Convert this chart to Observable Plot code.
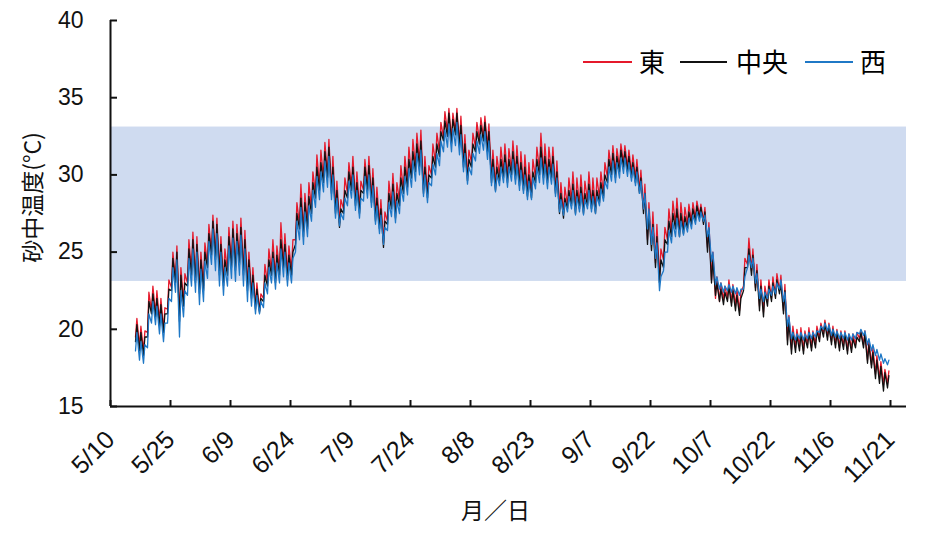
<!DOCTYPE html>
<html><head><meta charset="utf-8">
<script src="https://cdn.jsdelivr.net/npm/d3@7"></script>
<script src="https://cdn.jsdelivr.net/npm/@observablehq/plot@0.6"></script>
<style>
body{margin:0;background:#fff;}
#wrap{position:relative;width:925px;height:534px;}
.lg-line{position:absolute;height:1.5px;}
.lg-text{position:absolute;font-family:"Noto Sans CJK JP",sans-serif;font-size:26px;line-height:26px;color:#000;white-space:nowrap;}
</style></head><body><div id="wrap"></div>
<script>
// ---- data ----
const year = 2021;
const startLabel = "5/10";       // x-axis origin
const endLabel = "11/25";        // x-axis end
const firstDayLabel = "5/16";    // first day of measurements
const seriesNames = ["東", "中央", "西"];
const seriesColors = ["#e5192b", "#111111", "#1f78c6"];
const tickLabels = ["5/10","5/25","6/9","6/24","7/9","7/24","8/8","8/23","9/7","9/22","10/7","10/22","11/6","11/21"];
const yTicks = [15, 20, 25, 30, 35, 40];
const yDomain = [15, 40];
const bandLow = 23.1, bandHigh = 33.1;

// daily minimum / maximum, one value per day from 5/16 to 11/20
const centerLo = [
19.2,18.6,18.3,19.5,21.0,20.8,20.2,19.8,21.0,22.5,
23.0,20.5,21.5,22.8,23.5,23.0,22.3,22.5,24.0,24.8,
24.5,23.5,22.8,23.5,24.0,23.8,24.2,23.5,22.5,22.0,
21.3,21.1,21.8,22.8,23.5,23.0,23.5,24.0,23.2,23.5,
25.5,26.5,26.0,26.5,27.5,28.5,29.0,29.5,29.8,28.8,
27.5,26.6,27.5,28.5,29.0,28.0,27.5,28.8,29.0,28.2,
27.0,26.5,25.3,26.8,27.8,27.2,28.0,28.8,29.2,29.8,
30.2,30.5,28.8,28.5,29.8,30.5,31.2,32.2,32.5,32.0,
32.6,31.8,30.5,29.6,30.5,31.5,32.0,32.2,31.5,29.5,
29.0,29.6,29.8,29.5,30.0,29.7,29.3,29.0,28.6,28.5,
29.5,30.0,29.8,29.5,29.8,28.8,27.5,27.2,27.8,28.0,
27.5,27.8,27.5,28.0,27.8,27.5,28.2,28.5,29.5,30.0,
29.8,30.2,30.5,30.2,29.8,29.5,28.8,27.5,25.5,25.1,
24.0,23.0,24.0,25.5,26.0,26.5,26.0,26.2,26.5,26.8,
27.0,27.2,26.8,25.0,23.0,22.2,21.8,21.6,21.8,21.5,
21.2,20.9,22.5,24.0,23.5,22.5,21.2,20.8,21.5,21.8,
22.0,22.3,21.0,19.0,18.4,18.5,18.6,18.4,18.8,18.6,
18.8,19.2,19.5,19.3,19.0,18.8,18.6,18.7,18.4,18.5,
18.8,19.2,18.8,17.8,17.5,16.8,16.5,16.0,16.2];
const centerHi = [
20.3,19.8,19.5,21.8,22.3,22.0,21.6,21.0,22.6,24.6,
25.0,23.5,23.0,25.2,25.8,25.5,24.5,25.0,26.2,27.0,
26.8,25.5,24.5,26.0,26.5,26.2,26.6,25.8,24.5,23.5,
22.6,22.0,23.5,24.5,25.0,24.8,25.8,25.5,24.8,25.0,
27.5,28.5,28.2,28.6,29.5,30.5,30.8,31.5,31.8,30.5,
29.0,27.8,29.0,30.2,30.5,29.5,29.0,30.5,30.6,29.8,
28.5,27.8,27.0,28.8,29.4,28.8,29.8,30.5,31.0,31.5,
32.0,32.2,30.5,30.0,31.2,32.0,32.8,33.5,34.0,33.6,
34.0,33.2,32.0,31.0,32.0,32.8,33.2,33.4,32.8,31.0,
30.5,31.0,31.3,31.0,31.5,31.2,30.8,30.5,30.0,30.2,
31.0,31.8,31.2,31.0,31.2,30.2,28.8,28.5,29.0,29.4,
29.0,29.2,28.8,29.4,29.0,29.0,29.5,30.0,31.0,31.4,
31.2,31.6,31.5,31.2,30.8,30.5,29.8,28.8,27.5,26.8,
26.0,24.5,25.8,27.0,27.5,27.8,27.5,27.3,27.6,27.8,
28.0,27.9,27.6,26.5,24.5,23.0,22.6,22.4,22.8,22.5,
22.2,22.0,24.0,25.2,24.8,23.8,22.8,22.4,22.8,23.0,
23.2,23.0,22.5,20.5,19.8,19.6,19.7,19.5,19.8,19.6,
19.9,20.2,20.4,20.2,20.0,19.8,19.6,19.7,19.5,19.4,
19.5,19.8,19.7,19.0,18.5,18.0,17.6,17.2,17.0];
const eastLo = [
19.5,18.9,18.6,19.8,21.2,21.0,20.5,20.0,21.3,22.7,
23.2,20.8,21.8,23.0,23.8,23.2,22.6,22.8,24.2,25.0,
24.8,23.8,23.0,23.8,24.3,24.0,24.5,23.8,22.8,22.2,
21.5,21.2,22.0,23.0,23.8,23.3,23.8,24.2,23.5,23.8,
25.8,26.8,26.3,26.8,27.8,28.8,29.3,29.8,30.0,29.0,
27.8,26.9,27.8,28.8,29.3,28.3,27.8,29.0,29.3,28.5,
27.3,26.8,25.6,27.0,28.0,27.5,28.3,29.0,29.5,30.0,
30.5,30.8,29.0,28.8,30.0,30.8,31.5,32.4,32.8,32.3,
32.8,32.0,30.8,29.9,30.8,31.8,32.2,32.4,31.8,29.8,
29.3,29.9,30.1,29.8,30.3,30.0,29.6,29.3,28.9,28.8,
29.8,30.3,30.1,29.8,30.1,29.0,27.8,27.5,28.0,28.3,
27.8,28.0,27.8,28.3,28.0,27.8,28.5,28.8,29.8,30.3,
30.1,30.5,30.8,30.5,30.1,29.8,29.0,27.8,25.8,25.5,
24.3,23.4,24.5,25.8,26.3,26.8,26.3,26.5,26.8,27.0,
27.2,27.4,27.0,25.3,23.2,22.0,21.8,21.9,22.0,21.7,
21.5,21.2,22.8,24.2,23.8,22.7,21.5,21.1,21.8,22.0,
22.2,22.5,21.2,19.3,18.7,18.8,18.9,18.6,19.0,18.8,
19.0,19.4,19.7,19.5,19.2,19.0,18.8,18.9,18.6,18.7,
19.0,19.4,19.0,18.0,17.7,17.1,16.8,16.4,16.5];
const eastHi = [
20.7,20.2,19.9,22.4,22.8,22.5,22.0,21.4,23.2,25.0,
25.4,24.0,23.6,25.8,26.3,26.0,25.0,25.6,26.8,27.4,
27.2,26.0,25.2,26.6,27.0,26.8,27.2,26.4,25.0,24.0,
23.0,22.3,24.2,25.2,25.8,25.4,26.9,26.2,25.4,25.8,
28.2,29.4,28.8,29.5,30.2,31.3,31.6,32.1,32.3,31.2,
29.6,28.4,29.8,30.8,31.2,30.2,29.6,31.0,31.2,30.4,
29.2,28.4,27.6,29.6,30.1,29.5,30.6,31.2,31.8,32.3,
32.7,32.9,31.2,30.6,32.0,32.7,33.4,34.1,34.3,34.0,
34.3,33.8,32.6,31.6,32.7,33.4,33.7,33.8,33.3,31.6,
31.2,31.8,32.0,31.7,32.2,31.9,31.5,31.3,30.8,31.0,
31.8,32.7,32.0,31.8,31.8,30.9,29.5,29.2,29.8,30.2,
29.8,30.0,29.6,30.2,29.8,29.8,30.2,30.8,31.6,31.9,
31.7,32.0,31.9,31.6,31.3,31.0,30.3,29.4,28.2,27.6,
26.8,25.2,26.6,27.8,28.3,28.5,28.2,27.9,28.1,28.2,
28.3,28.1,27.9,26.9,25.0,23.4,23.0,22.8,23.2,22.9,
22.6,22.4,24.6,25.9,25.2,24.2,23.2,22.8,23.2,23.4,
23.6,23.5,22.9,20.9,20.2,20.0,20.1,19.9,20.1,19.9,
20.2,20.4,20.6,20.4,20.2,20.0,19.9,19.9,19.7,19.7,
19.8,19.9,19.9,19.3,18.8,18.3,17.9,17.4,17.3];
const westLo = [
18.6,18.0,17.8,18.8,20.4,20.3,19.7,19.2,20.4,21.8,
22.4,19.5,20.8,22.2,22.8,22.4,21.6,21.8,23.3,24.2,
23.8,22.8,22.2,22.8,23.3,23.1,23.5,22.8,21.8,21.5,
21.0,21.0,21.4,22.3,23.0,22.6,23.0,23.4,22.8,23.0,
25.0,25.8,25.5,26.0,27.0,27.9,28.4,28.9,29.2,28.4,
27.2,26.7,27.1,28.0,28.5,27.7,27.2,28.3,28.5,27.9,
26.8,26.2,25.5,26.4,27.3,26.9,27.5,28.3,28.7,29.2,
29.6,30.0,28.6,28.2,29.3,30.0,30.6,31.5,31.8,31.5,
31.9,31.3,30.2,29.4,30.0,30.9,31.4,31.6,31.0,29.3,
28.9,29.3,29.5,29.2,29.6,29.4,29.0,28.8,28.4,28.4,
29.1,29.5,29.4,29.1,29.4,28.6,27.6,27.4,27.6,27.8,
27.4,27.6,27.4,27.8,27.6,27.5,28.0,28.3,29.1,29.6,
29.5,29.8,30.1,29.9,29.6,29.3,28.8,27.8,26.5,25.5,
24.6,22.5,23.8,25.0,25.6,26.0,26.0,26.1,26.3,26.5,
26.8,27.0,27.0,26.0,24.4,22.9,22.6,22.4,22.5,22.4,
22.3,22.2,22.6,24.0,24.0,23.0,22.0,21.8,22.0,22.2,
22.3,22.6,21.8,20.2,19.4,19.3,19.4,19.3,19.4,19.4,
19.5,19.8,20.0,19.9,19.6,19.5,19.4,19.4,19.3,19.3,
19.4,19.7,19.6,19.0,18.6,18.3,18.0,17.8,17.7];
const westHi = [
19.8,19.2,19.0,21.0,21.8,21.5,21.0,20.4,22.0,24.0,
24.5,22.5,22.5,24.6,25.2,25.0,23.9,24.4,25.7,26.5,
26.2,25.0,24.0,25.4,25.9,25.7,26.1,25.2,24.0,23.0,
22.2,21.8,23.0,24.0,24.6,24.3,25.2,25.0,24.3,24.6,
27.0,27.9,27.6,28.0,29.0,29.9,30.2,30.9,31.2,30.0,
28.5,27.5,28.5,29.6,30.0,29.0,28.5,29.9,30.0,29.3,
28.0,27.4,26.6,28.2,28.9,28.3,29.2,29.9,30.4,30.9,
31.4,31.6,30.0,29.5,30.7,31.4,32.2,32.9,33.3,33.0,
33.4,32.6,31.4,30.5,31.4,32.2,32.6,32.8,32.2,30.5,
30.0,30.5,30.8,30.5,31.0,30.7,30.3,30.0,29.6,29.8,
30.5,31.1,30.7,30.5,30.7,29.8,28.4,28.2,28.6,29.0,
28.6,28.8,28.4,29.0,28.6,28.6,29.1,29.6,30.5,30.9,
30.8,31.1,31.1,30.8,30.5,30.2,29.6,28.8,27.8,26.6,
25.6,23.4,25.0,26.4,26.9,27.2,27.0,26.9,27.2,27.4,
27.6,27.6,27.4,26.6,25.0,23.4,23.0,22.8,22.9,22.8,
22.7,22.6,23.4,24.8,24.6,23.6,22.6,22.4,22.6,22.8,
23.0,23.2,22.4,20.8,19.8,19.7,19.8,19.7,19.8,19.8,
19.9,20.2,20.4,20.3,20.0,19.9,19.8,19.8,19.7,19.7,
19.8,20.0,19.9,19.4,19.0,18.7,18.4,18.1,18.0];

// ---- build ----
const toDate = (lbl) => { const [m, d] = lbl.split("/").map(Number); return new Date(Date.UTC(year, m - 1, d)); };
const DAY = 864e5;
const x0 = toDate(startLabel), x1 = toDate(endLabel), first = toDate(firstDayLabel);
const tickDates = tickLabels.map(toDate);
const loArrays = [eastLo, centerLo, westLo];
const hiArrays = [eastHi, centerHi, westHi];

function seriesRows(k) {
  const rows = [];
  loArrays[k].forEach((lo, i) => {
    const base = +first + i * DAY;
    rows.push({t: new Date(base + 0.25 * DAY), v: lo});
    rows.push({t: new Date(base + 0.6 * DAY), v: hiArrays[k][i]});
  });
  return rows;
}

const CJK = '"Noto Sans CJK JP", sans-serif';
const LAT = '"Liberation Sans", Arial, sans-serif';

const chart = Plot.plot({
  width: 925, height: 534,
  marginLeft: 110, marginRight: 19, marginTop: 20, marginBottom: 128,
  style: {fontFamily: LAT, background: "#fff", color: "#111"},
  x: {type: "utc", domain: [x0, x1]},
  y: {domain: yDomain},
  marks: [
    Plot.rect([{a: x0, b: x1, lo: bandLow, hi: bandHigh}], {x1: "a", x2: "b", y1: "lo", y2: "hi", fill: "#cfdbf0"}),
    ...[0, 1, 2].map(k => Plot.line(seriesRows(k), {x: "t", y: "v", stroke: seriesColors[k], strokeWidth: 1.3, curve: "linear"})),
    Plot.ruleX([x0], {stroke: "#111", strokeWidth: 2}),
    Plot.ruleY([yDomain[0]], {stroke: "#111", strokeWidth: 2}),
    Plot.axisY({ticks: yTicks, tickSize: 0, tickPadding: 27, fontSize: 23, label: null, fontFamily: LAT}),
    Plot.axisY({ticks: yTicks, tickSize: 7, dx: 7, text: null, label: null, strokeWidth: 2}),
    Plot.axisX({ticks: tickDates, tickSize: 6, dy: -6, text: null, label: null, strokeWidth: 2}),
    Plot.axisX({ticks: tickDates, tickSize: 0, tickPadding: 29, tickRotate: -45, fontSize: 25, label: null, fontFamily: LAT,
      tickFormat: d => tickLabels[tickDates.findIndex(t => +t === +d)]}),
    Plot.text(["砂中温度(°C)"], {frameAnchor: "left", textAnchor: "middle", rotate: -90, dx: -77, dy: -16, fontSize: 23, fontFamily: CJK, fill: "#111"}),
    Plot.text(["月／日"], {frameAnchor: "bottom", dx: -13, dy: 112, fontSize: 23, fontFamily: CJK, fill: "#111"})
  ]
});
const wrap = document.getElementById("wrap");
wrap.appendChild(chart);

// legend overlay
const legendItems = [
  {line: [583, 49], text: 639},
  {line: [680, 47], text: 736},
  {line: [805, 48], text: 860}
];
legendItems.forEach((it, k) => {
  const l = document.createElement("div");
  l.className = "lg-line";
  l.style.left = it.line[0] + "px"; l.style.width = it.line[1] + "px"; l.style.top = "61px";
  l.style.background = seriesColors[k];
  wrap.appendChild(l);
  const t = document.createElement("div");
  t.className = "lg-text";
  t.style.left = it.text + "px"; t.style.top = "48px";
  t.textContent = seriesNames[k];
  wrap.appendChild(t);
});
</script>
</body></html>
